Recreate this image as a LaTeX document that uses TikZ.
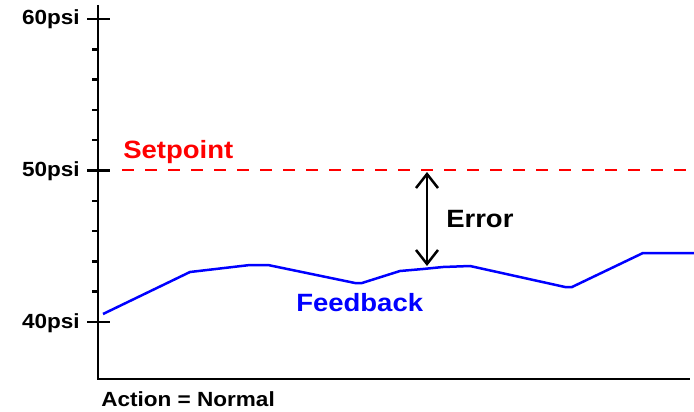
\documentclass[tikz,border=0pt]{standalone}
\usepackage{fontspec}
\setmainfont{Liberation Sans}
\usetikzlibrary{arrows.meta}
\newcommand{\wide}[1]{\scalebox{1.1}[1]{#1}}
\tikzset{
  axislabel/.style={font=\fontsize{20.5}{24}\selectfont\bfseries, inner sep=0pt, anchor=base east},
  bigtext/.style={font=\fontsize{25}{30}\selectfont\bfseries, inner sep=0pt, anchor=base west},
  errarrow/.style={{Straight Barb[length=14pt,width=22pt]}-{Straight Barb[length=14pt,width=22pt]}},
}

\begin{document}
\begin{tikzpicture}[x=1pt,y=-1pt,line width=2.5pt]
    \useasboundingbox (0,0) rectangle (694,412);
    %axes
    \draw (98,5) -- (98,379) -- (690,379);
    \foreach \k in {1,2,3,4,6,7,8,9}
        \draw (92,19+30.3*\k) -- (98,19+30.3*\k);
    \foreach \k/\lab in {0/60psi,5/50psi,10/40psi}{
        \draw (87,19+30.3*\k) -- (110,19+30.3*\k);
        \node[axislabel] (tick\k) at (81,25+30.3*\k) {\wide{\lab}};
    }
    %setpoint and feedback
    \draw[red, dash pattern=on 11.5pt off 11.5pt] (122,170) -- (686,170);
    \draw[blue] (103,314) -- (190,272) -- (250,265) -- (268,265) -- (355,283) -- (362,283)
        -- (400,271) -- (423,269) -- (443,267) -- (470,266) -- (565,287) -- (572,287)
        -- (643,253) -- (694,253);
    \coordinate (errtop) at (427,172);
    \coordinate (errbot) at (427,266);
    \draw[errarrow] (errtop) -- (errbot);
    \node[bigtext, red] (setp) at (122,158) {\wide{Setpoint}};
    \node[bigtext] (err) at (445,227) {\wide{Error}};
    \node[bigtext, blue] (feed) at (295,311) {\wide{Feedback}};
    \node[axislabel, anchor=base west] (act) at (100,406) {\wide{Action = Normal}};
\end{tikzpicture}
\end{document}
